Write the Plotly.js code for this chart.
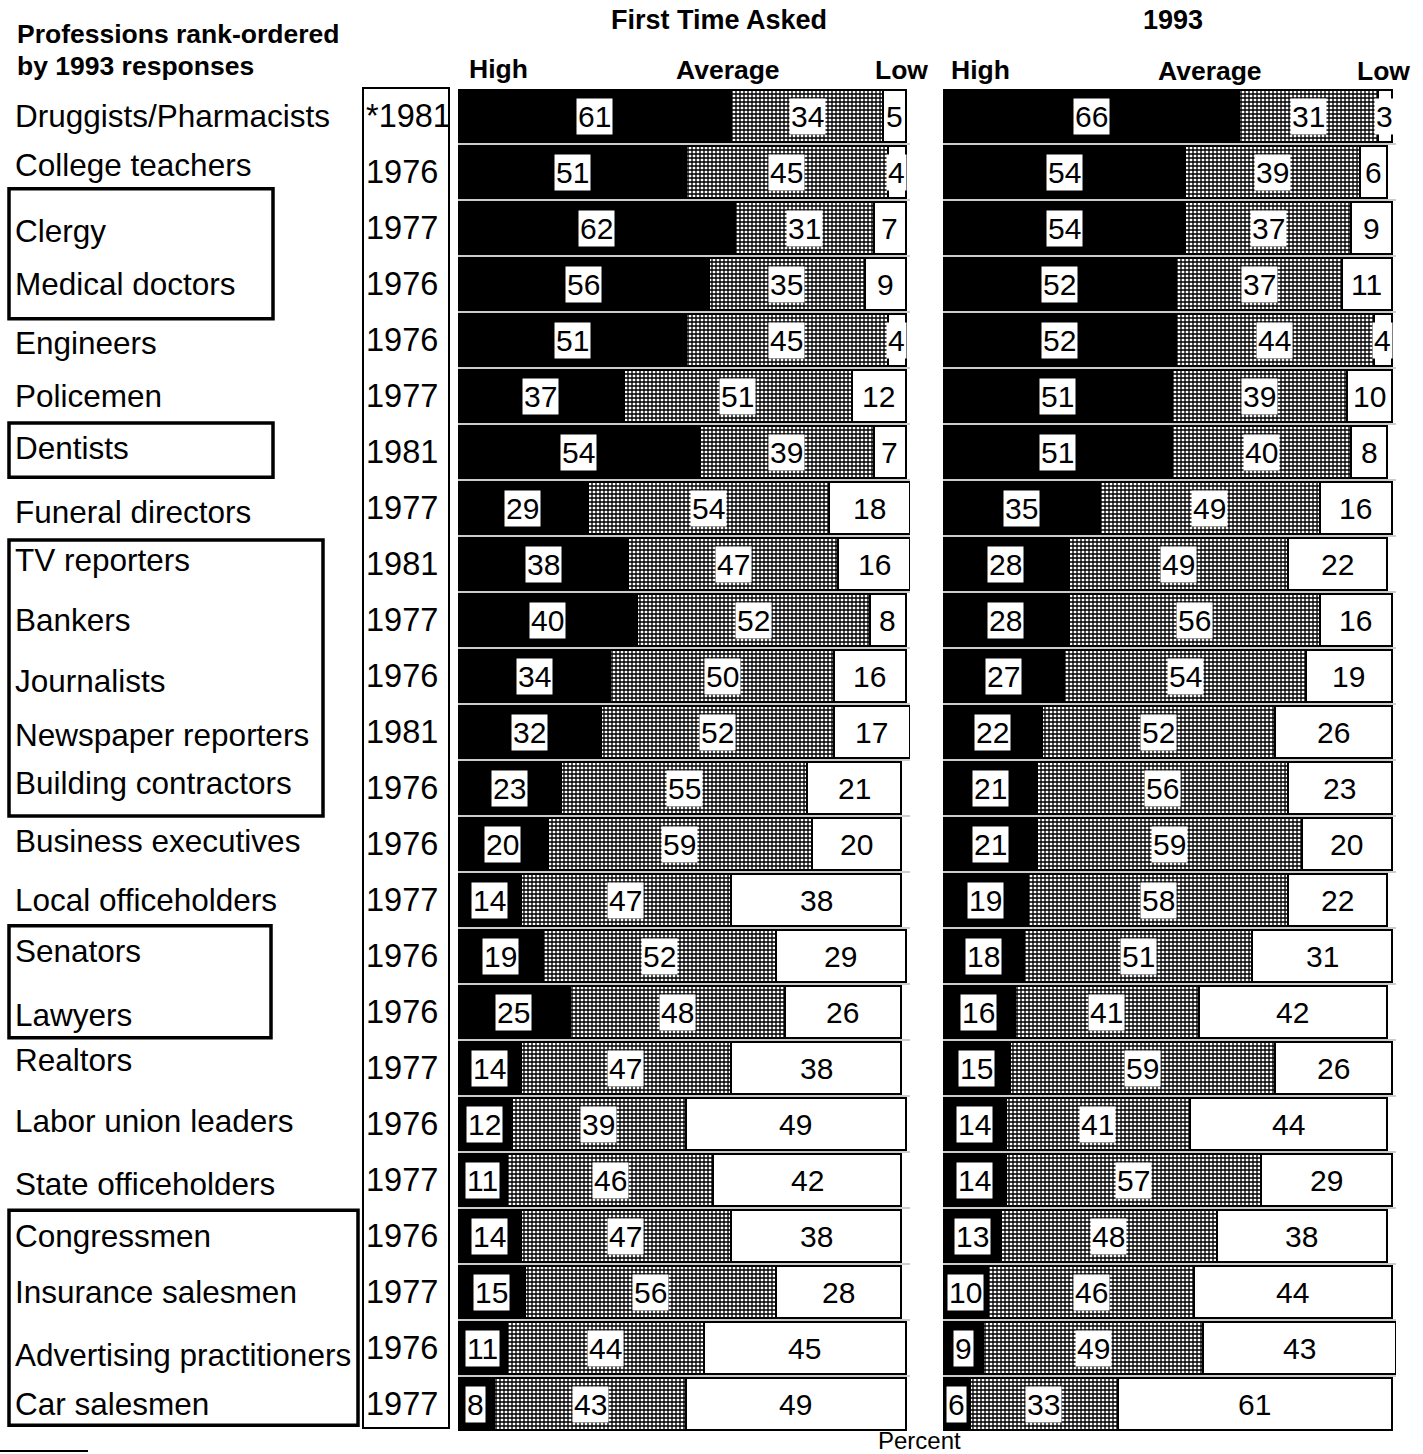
<!DOCTYPE html>
<html>
<head>
<meta charset="utf-8">
<script src="https://cdn.plot.ly/plotly-3.0.1.min.js"></script>
<style>html,body{margin:0;padding:0;background:#fff;}#chart{width:1423px;height:1454px;}</style>
</head>
<body>
<div id="chart"></div>
<script>
const professions = [
  "Druggists/Pharmacists", "College teachers", "Clergy", "Medical doctors", "Engineers",
  "Policemen", "Dentists", "Funeral directors", "TV reporters", "Bankers", "Journalists",
  "Newspaper reporters", "Building contractors", "Business executives", "Local officeholders",
  "Senators", "Lawyers", "Realtors", "Labor union leaders", "State officeholders",
  "Congressmen", "Insurance salesmen", "Advertising practitioners", "Car salesmen"
];
const firstYears = ["*1981","1976","1977","1976","1976","1977","1981","1977","1981","1977","1976",
  "1981","1976","1976","1977","1976","1976","1977","1976","1977","1976","1977","1976","1977"];

const firstHigh = [61,51,62,56,51,37,54,29,38,40,34,32,23,20,14,19,25,14,12,11,14,15,11,8];
const firstAvg  = [34,45,31,35,45,51,39,54,47,52,50,52,55,59,47,52,48,47,39,46,47,56,44,43];
const firstLow  = [5,4,7,9,4,12,7,18,16,8,16,17,21,20,38,29,26,38,49,42,38,28,45,49];

const recentHigh = [66,54,54,52,52,51,51,35,28,28,27,22,21,21,19,18,16,15,14,14,13,10,9,6];
const recentAvg  = [31,39,37,37,44,39,40,49,49,56,54,52,56,59,58,51,41,59,41,57,48,46,49,33];
const recentLow  = [3,6,9,11,4,10,8,16,22,16,19,26,23,20,22,31,42,26,44,29,38,44,43,61];

const seriesNames = ["High", "Average", "Low"];
const panelTitles = ["First Time Asked", "1993"];

// rows framed together (tied 1993 rankings): [first row, last row, right edge px, top pad, bottom pad]
const groupBoxes = [[2,3,273,0.70,0.62],[6,6,273,0.52,0.45],[8,12,323,0.43,0.50],[15,16,271,0.54,0.46],[20,23,358,0.46,0.38]];
// small vertical nudges (px, + = down) of the profession labels, as typeset in the original
const labelNudge = {"College teachers": -7, "Clergy": 3, "Engineers": 3, "Dentists": -4, "Funeral directors": 4,
  "TV reporters": -4, "Journalists": 5, "Newspaper reporters": 3, "Building contractors": -5,
  "Business executives": -3, "Senators": -5, "Lawyers": 3, "Realtors": -8, "Labor union leaders": -3,
  "State officeholders": 4, "Advertising practitioners": 7};

const W = 1423, H = 1454, T = 88, B = 22;
const PH = H - T - B;
const px = p => p / W;
const py = p => (H - B - p) / PH;
const FONT = "Liberation Sans, Arial, Helvetica, sans-serif";

const avgPattern = {shape: "+", fgcolor: "#000", bgcolor: "#fff", size: 4, solidity: 0.55};
const line = {color: "#000", width: 2};

function panelTraces(high, avg, low, xa) {
  return [
    {type: "bar", orientation: "h", name: seriesNames[0], y: professions, x: high, xaxis: xa, yaxis: "y",
     marker: {color: "#000", line: line}},
    {type: "bar", orientation: "h", name: seriesNames[1], y: professions, x: avg, xaxis: xa, yaxis: "y",
     marker: {color: "#9a9a9a", pattern: avgPattern, line: line}},
    {type: "bar", orientation: "h", name: seriesNames[2], y: professions, x: low, xaxis: xa, yaxis: "y",
     marker: {color: "#fff", line: line}}
  ];
}

const data = [
  ...panelTraces(firstHigh, firstAvg, firstLow, "x"),
  ...panelTraces(recentHigh, recentAvg, recentLow, "x2")
];

const annotations = [];
function valueLabels(high, avg, low, xr) {
  professions.forEach((p, i) => {
    const segs = [high[i], avg[i], low[i]];
    let start = 0;
    segs.forEach(v => {
      annotations.push({xref: xr, yref: "y", x: start + v / 2, y: p, text: String(v), showarrow: false,
        xanchor: "center", yanchor: "middle", bgcolor: "#fff", borderpad: 1,
        font: {family: FONT, size: 30, color: "#000"}});
      start += v;
    });
  });
}
valueLabels(firstHigh, firstAvg, firstLow, "x");
valueLabels(recentHigh, recentAvg, recentLow, "x2");

professions.forEach((p, i) => {
  annotations.push({xref: "paper", yref: "y", x: px(13), y: p, text: p, showarrow: false,
    xanchor: "left", yanchor: "middle", yshift: -(labelNudge[p] || 0),
    font: {family: FONT, size: 31.5, color: "#000"}});
  annotations.push({xref: "paper", yref: "y", x: px(364), y: p, text: firstYears[i], showarrow: false,
    xanchor: "left", yanchor: "middle", font: {family: FONT, size: 32.5, color: "#000"}});
});

function hdr(text, x, y, anchor, size, bold) {
  annotations.push({xref: "paper", yref: "paper", x: px(x), y: py(y), text: bold ? "<b>" + text + "</b>" : text,
    showarrow: false, xanchor: anchor, yanchor: "middle", font: {family: FONT, size: size, color: "#000"}});
}
hdr("Professions rank-ordered", 15, 34, "left", 26.5, true);
hdr("by 1993 responses", 15, 66, "left", 26.5, true);
hdr(panelTitles[0], 719, 20, "center", 27, true);
hdr(panelTitles[1], 1173, 20, "center", 27, true);
hdr(seriesNames[0], 467, 69, "left", 26.5, true);
hdr(seriesNames[1], 728, 70, "center", 26.5, true);
hdr(seriesNames[2], 930, 70, "right", 26.5, true);
hdr(seriesNames[0], 949, 70, "left", 26.5, true);
hdr(seriesNames[1], 1210, 71, "center", 26.5, true);
hdr(seriesNames[2], 1412, 71, "right", 26.5, true);
hdr("Percent", 919, 1440, "center", 24, false);

const shapes = [];
// year column frame
shapes.push({type: "rect", xref: "paper", yref: "paper", x0: px(363), x1: px(449), y0: py(88), y1: py(1428),
  line: {color: "#000", width: 2}});
groupBoxes.forEach(g => {
  shapes.push({type: "rect", xref: "paper", yref: "y", x0: px(9), x1: px(g[2]), y0: g[0] - g[3], y1: g[1] + g[4],
    line: {color: "#000", width: 3.5}});
});
// faint row separators
for (let i = 1; i < professions.length; i++) {
  shapes.push({type: "line", xref: "paper", yref: "y", x0: px(458), x1: px(910), y0: i - 0.5, y1: i - 0.5,
    line: {color: "#999", width: 1}});
  shapes.push({type: "line", xref: "paper", yref: "y", x0: px(943), x1: px(1396), y0: i - 0.5, y1: i - 0.5,
    line: {color: "#999", width: 1}});
}
// footnote rule
shapes.push({type: "line", xref: "paper", yref: "paper", x0: px(0), x1: px(88), y0: py(1451), y1: py(1451),
  line: {color: "#000", width: 2}});

const axisX = {range: [0, 101], showgrid: false, zeroline: false, showticklabels: false, showline: false, ticks: "", fixedrange: true};
const layout = {
  width: W, height: H,
  margin: {l: 0, r: 0, t: T, b: B, pad: 0},
  paper_bgcolor: "#fff", plot_bgcolor: "rgba(0,0,0,0)",
  barmode: "stack", bargap: 0.08,
  showlegend: false,
  xaxis: Object.assign({domain: [px(458), px(910)], anchor: "y"}, axisX),
  xaxis2: Object.assign({domain: [px(943), px(1396)], anchor: "y"}, axisX),
  yaxis: {type: "category", categoryorder: "array", categoryarray: professions, range: [23.5, -0.5],
    showgrid: false, zeroline: false, showticklabels: false, showline: false, ticks: "", fixedrange: true},
  annotations: annotations,
  shapes: shapes,
  font: {family: FONT}
};

Plotly.newPlot("chart", data, layout, {staticPlot: true, displayModeBar: false});
</script>
</body>
</html>
